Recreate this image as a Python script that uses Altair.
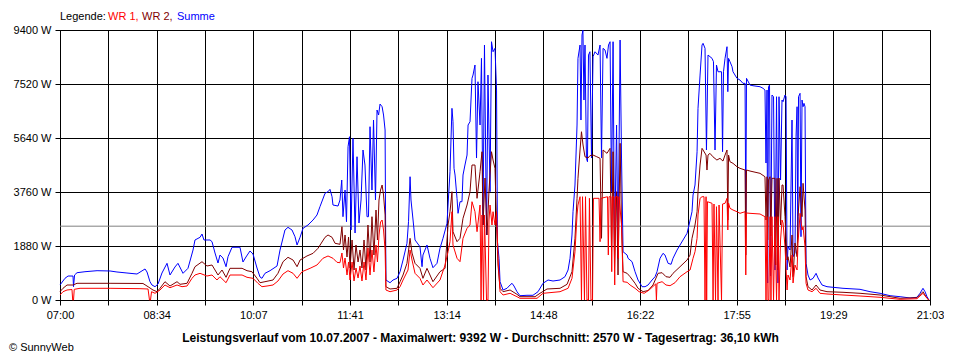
import altair as alt
import pandas as pd

# Time in minutes after 07:00 (day window 07:00 .. 21:03 = 843 min), power in W
SUMME = [(0,522),(4.8,755),(7.8,835),(12.6,835),(13.1,463),(14.1,870),(16.5,950),(24.2,985),(35.9,1020),(48.5,1010),(55.2,975),(64.9,940),(74.6,905),(82.4,1080),(84.3,975),(87.2,637),(89.1,522),(92.1,463),(95,557),(98.8,940),(103.7,1277),(106.6,870),(111.4,1149),(114.3,1277),(119.2,929),(124,1103),(128.9,1740),(130.8,2089),(135.7,2183),(137.6,2297),(139.5,2089),(145.4,2089),(147.3,2030),(150.2,1636),(153.1,1288),(155,1566),(157.9,1462),(160.9,1159),(162.8,1507),(166.7,1835),(174.4,1835),(177.3,1322),(180.2,1497),(184.1,1706),(187,1601),(190.9,1114),(193.8,801),(195.7,755),(198.6,929),(203.5,1020),(210.3,1184),(213.2,1740),(218,2437),(220.9,2531),(224.8,2437),(227.7,2204),(229.7,1915),(232.6,2183),(235.5,2496),(240.3,2611),(245.2,2785),(249,2959),(251.9,3248),(256.8,3714),(259.7,3770),(261.6,3853),(263.6,3596),(264.5,3307),(269.4,3272),(271.3,3481),(273,4177),(274.2,2900),(276.2,3829),(277.6,2726),(279.1,5336),(280.5,5684),(282,2437),(283.9,5629),(285.9,2332),(287.8,4988),(289.7,2680),(291.7,3481),(293.6,5222),(295.5,4699),(297.5,2900),(298.9,2900),(300.4,6033),(302.3,3829),(303.8,6266),(305.7,3481),(307.2,6614),(308.7,6440),(310.1,6823),(312.1,6729),(313.5,6440),(315,5918),(315.8,696),(319.8,602),(322.7,696),(326.6,755),(329.5,985),(332.4,1392),(336.2,1974),(337.7,2726),(339.2,4292),(340.1,3481),(342.1,2785),(344,2089),(348.8,1855),(350.8,1159),(351.7,1566),(355.6,1915),(358.5,1452),(361.4,1124),(365.3,1277),(368.2,1800),(371.1,2148),(375,2670),(376,3307),(377.9,4466),(379.8,6673),(380.8,6207),(381.8,4584),(382.8,4351),(384.7,3540),(385.7,3018),(387.6,3422),(389.5,3422),(390.5,4351),(392.4,4699),(394.4,5047),(395.4,6092),(397.3,6207),(399.2,7717),(400.2,7832),(402.1,8180),(403.6,4943),(405,7599),(407,6092),(408.4,8413),(409.9,2611),(411.3,8877),(413.3,2263),(414.7,7832),(416.7,3770),(418.1,8992),(419.6,8643),(421.5,8762),(423,7310),(423.9,2030),(425.4,1452),(426.4,637),(429.3,348),(433.1,407),(436.1,522),(438,581),(439.9,487),(442.8,289),(445.7,150),(452.5,164),(458.3,164),(463.2,289),(468,581),(472.9,696),(477.7,661),(484.5,696),(489.3,811),(492.3,1044),(494.2,1452),(496.1,2263),(497.1,3074),(499,4003),(501,6092),(501.9,8413),(503.9,8877),(504.8,6266),(505.8,9225),(506.7,9392),(507.7,6962),(508.7,8877),(510.1,4932),(511.1,4814),(512.1,8528),(513.5,8643),(515,4943),(516.5,8469),(518.4,8643),(521.3,8528),(523.3,8877),(524.7,4943),(526.2,8762),(528.1,8703),(530,8413),(531.5,8877),(533,8992),(534.4,3770),(535.9,8992),(537.3,1681),(539.3,6092),(540.7,1452),(542.7,9051),(544.1,4943),(545.6,1681),(549.5,1566),(550.4,1452),(554.3,1333),(557.2,985),(560.1,696),(564,463),(566.9,463),(569.8,522),(573.7,696),(576.6,811),(578.5,985),(581.4,1452),(584.3,1625),(586.2,1566),(589.2,1277),(592.1,1243),(594,1452),(597.9,1740),(600.8,1915),(603.7,2089),(607.6,2322),(609.5,2611),(612.4,3074),(613.4,3655),(615.3,4003),(617.3,5162),(618.2,6673),(620.2,7832),(622.1,8877),(623.1,8936),(625,8762),(626.4,5222),(627.9,8528),(631.8,8413),(633.2,8296),(634.7,5222),(636.1,8180),(637.6,7947),(641,7947),(642,5162),(642.9,7947),(644.4,8413),(646.3,8818),(647.1,7252),(647.8,8413),(649.2,8296),(651.2,8122),(652.1,7947),(656,7717),(658.9,7658),(661.8,7543),(663.8,7543),(664.5,2844),(665.2,7717),(668.6,7484),(671.5,7460),(678.3,7425),(681.2,7370),(683.1,7310),(684.1,4769),(685.1,7310),(685.7,592),(686.5,7425),(687.5,7484),(688.5,835),(689.9,7136),(691.4,7077),(692.8,1044),(694.3,7077),(695.7,592),(696.7,7077),(698.2,4177),(699.6,6962),(700.6,6903),(702.5,7136),(703.5,7077),(704.5,1044),(705.4,1855),(707.4,1740),(709.3,6266),(710.3,1507),(712.2,1636),(713.2,5684),(714.2,6729),(714.9,2204),(715.6,7077),(717.1,7195),(718,2204),(719,6962),(720,6729),(720.9,6847),(721.9,6729),(722.9,1277),(724.8,870),(726.8,696),(729.7,755),(732.6,929),(734.5,766),(738.4,522),(743.2,463),(758.7,407),(775.2,372),(784.9,289),(794.6,233),(804.3,150),(814,115),(823.7,70),(830.4,94),(833.3,233),(836.2,407),(838.2,289),(840.1,115),(842,0)]

WR2 = [(0,289),(2.9,407),(6.8,522),(12.6,522),(16.5,581),(48.5,581),(80.4,575),(85.3,463),(90.1,348),(94,289),(96.9,407),(101.7,637),(106.6,487),(113.4,637),(116.3,546),(123.1,581),(127.9,929),(130.8,1159),(137.6,1333),(142.4,1184),(147.3,1218),(150.2,1044),(153.1,870),(157,1044),(160.9,790),(164.7,1103),(176.4,1103),(181.2,1020),(186,985),(190.9,755),(193.8,602),(198.6,637),(206.4,696),(211.2,929),(216.1,1333),(220.9,1486),(225.8,1392),(229.7,1159),(232.6,1392),(239.3,1532),(245.2,1625),(250,1800),(256.8,2183),(259.7,2263),(263.6,2183),(266.5,1974),(271.3,1939),(273.2,2552),(274.7,1740),(276.2,2263),(278.1,1497),(279.6,2193),(281,1114),(283,2089),(284.9,1044),(286.8,1915),(288.8,1323),(290.7,1740),(292.6,1114),(294.6,2089),(296.5,1044),(298.4,2611),(300.4,1323),(302.3,2900),(304.2,1566),(306.2,3133),(307.6,2089),(309.1,3481),(310.6,3829),(312.1,4003),(313.5,3655),(315,2959),(315.8,463),(319.8,383),(326.6,407),(329.5,637),(332.4,870),(336.2,1277),(339.2,2148),(341.1,1636),(344,1277),(348.8,1103),(351.7,755),(355.6,1103),(361.4,637),(368.2,985),(373.1,1103),(376,2611),(377.9,3074),(379.8,3770),(380.8,2378),(384.7,2030),(387.6,2148),(390.5,2844),(394.4,3307),(397.3,3770),(399.2,4699),(402.1,4699),(404.1,3540),(407,4466),(408.9,5162),(409.9,2611),(411.8,4247),(413.8,2263),(415.7,3829),(418.1,5162),(419.6,4873),(421.5,4584),(423,2611),(424.4,1218),(426.4,407),(429.3,289),(436.1,348),(442.8,198),(445.7,115),(460.3,115),(465.1,233),(471.9,383),(484.5,407),(491.3,546),(496.1,985),(499,2148),(501,3540),(501.9,4236),(503.9,5222),(505.3,5858),(506.8,5396),(508.7,4988),(511.6,4943),(513.5,5025),(516.5,5047),(520.1,4988),(523.3,4932),(524.7,2148),(526.2,5222),(530,5106),(533,5280),(534.4,1681),(535.9,5162),(537.3,1103),(539.3,3770),(540.7,870),(542.7,5455),(544.1,2611),(545.6,985),(549.5,929),(552.4,811),(557.2,581),(560.1,407),(565,289),(569.8,331),(574.6,522),(579.5,929),(583.4,950),(587.2,811),(591.1,790),(594,929),(600.8,1159),(607.6,1392),(610.5,1566),(612.4,2148),(615.3,2611),(617.3,3074),(618.2,3770),(620.2,4699),(622.1,5280),(623.1,5222),(626,5047),(626.9,4525),(627.9,5047),(629.8,5106),(632.6,4988),(636.5,4873),(639.5,4932),(642.4,4838),(644.4,5047),(646.3,5222),(647.1,2785),(647.8,5047),(649.2,4814),(652.1,4758),(656,4640),(658.9,4584),(663.8,4525),(664.5,1566),(665.2,4525),(668.6,4490),(678.3,4410),(683.1,4292),(684.1,2785),(685.1,4292),(685.7,2089),(686.5,4177),(688,4292),(688.7,2228),(689.9,4236),(692.8,4236),(693.5,1218),(694.8,4236),(695.7,1044),(696.7,4247),(698.2,2611),(699.6,4003),(700.6,4003),(702.5,2900),(704.5,1392),(705.4,1507),(707.4,1149),(709.3,2263),(710.3,811),(712.2,1984),(714.2,1507),(715.1,2900),(717.1,3944),(719,2900),(720,4062),(721.9,3133),(722.9,811),(724.8,463),(728.7,348),(732.6,522),(736.4,348),(743.2,289),(758.7,268),(775.2,233),(794.6,174),(814,59),(830.4,80),(836.2,289),(840.1,59),(842,0)]

WR1 = [(0,174),(2.9,289),(6.8,348),(11.6,366),(12.3,0),(13.1,0),(13.8,372),(19.4,407),(48.5,407),(77.5,394),(85.3,383),(86.7,0),(87.7,0),(88.7,289),(92.1,233),(96.9,348),(101.7,522),(106.6,428),(113.4,522),(118.2,463),(123.1,487),(127.9,755),(130.8,870),(135.7,929),(142.4,835),(147.3,870),(152.1,696),(155,811),(160.9,602),(164.7,870),(176.4,870),(181.2,790),(187,755),(191.8,581),(195.7,463),(200.6,487),(206.4,522),(211.2,661),(216.1,905),(220.9,1020),(225.8,929),(229.7,755),(234.5,985),(242.3,1103),(249,1218),(254.8,1452),(259.7,1532),(264.5,1452),(268.4,1312),(271.3,1298),(273.2,1636),(274.7,1114),(276.2,1462),(278.1,870),(279.6,1323),(281,696),(283,1323),(284.9,661),(286.8,1114),(288.8,766),(290.7,1184),(292.6,661),(294.6,1323),(296.5,696),(298.4,1810),(300.4,870),(302.3,1740),(304.2,975),(306.2,1915),(307.6,1323),(309.1,2263),(310.6,2715),(312.1,2785),(313.5,2437),(315,1740),(315.8,348),(319.8,289),(326.6,348),(329.5,463),(332.4,696),(337.2,1044),(339.2,1740),(341.1,1392),(344,929),(348.8,755),(351.7,522),(355.6,696),(361.4,428),(368.2,696),(373.1,1218),(376,1681),(377.9,2030),(379.8,3074),(380.8,1915),(384.7,1452),(387.6,1333),(390.5,2148),(394.4,2496),(397.3,2611),(399.2,3422),(402.1,3074),(404.1,2378),(407,3307),(408,0),(408.9,2959),(410.4,0),(411.3,2959),(413.3,0),(414.7,0),(415.7,2785),(416.7,3307),(418.6,2611),(419.6,3074),(421.5,2611),(423,3074),(424.4,1462),(426.4,289),(429.3,174),(436.1,233),(442.8,115),(445.7,59),(462.2,59),(468,233),(484.5,289),(492.3,407),(496.1,755),(499,1681),(501,2959),(501.9,3307),(503.9,3596),(505.3,0),(506.3,3596),(508.2,0),(509.2,3596),(510.6,0),(512.1,0),(513,3540),(514.5,0),(516,0),(516.9,3540),(522.3,3540),(523.3,2030),(524.2,3540),(530.5,3596),(531.3,1566),(532,3596),(533.9,3596),(534.6,985),(535.4,3596),(536.8,3596),(537.5,522),(538.3,3596),(540.3,3596),(541,1452),(541.7,3596),(544.1,2611),(545.6,637),(549.5,616),(552.4,522),(557.2,407),(561.1,289),(566,233),(570.8,348),(577.3,560),(577.9,0),(578.5,581),(583.4,637),(587.2,522),(591.1,498),(595.9,602),(600.8,811),(607.6,985),(610.5,1044),(613.4,1452),(615.3,1681),(617.3,2148),(618.2,2959),(620.2,3540),(622.1,3596),(624,3596),(625,0),(626,3596),(626.6,0),(627.4,3422),(631.8,3366),(632.8,0),(633.7,3342),(635.2,0),(636.1,3248),(637.6,0),(638.6,3307),(641,0),(642,3342),(644.4,3366),(646.3,3540),(647.1,2437),(647.8,3377),(649.2,3192),(652.1,3133),(656,3074),(658.9,3018),(663.8,3074),(664.5,870),(665.2,3029),(668.6,3018),(678.3,2994),(683.1,2900),(684.1,0),(685.1,2900),(686,0),(686.9,0),(688,2900),(688.9,0),(689.9,2900),(691.4,0),(692.8,2900),(694.3,0),(695.7,2900),(696.7,0),(698.2,2089),(699.6,2785),(700.6,2680),(702.5,1855),(704.5,348),(705.4,870),(707.4,696),(709.3,1566),(710.3,592),(712.2,1218),(714.2,1044),(715.1,1974),(717.1,3018),(719,2437),(720,2552),(721.9,1855),(722.9,581),(724.8,348),(728.7,289),(732.6,407),(736.4,233),(743.2,209),(758.7,174),(775.2,139),(794.6,94),(814,24),(830.4,45),(836.2,233),(840.1,59),(842,0)]

DAY_MINUTES = 843
X_GRID_DIVISIONS = 18
X_TICK_LABELS = ["07:00", "08:34", "10:07", "11:41", "13:14", "14:48", "16:22", "17:55", "19:29", "21:03"]
Y_TICKS = [0, 1880, 3760, 5640, 7520, 9400]
AVERAGE_W = 2570
TITLE = "Leistungsverlauf vom 10.07.2007 - Maximalwert: 9392 W - Durchschnitt: 2570 W - Tagesertrag: 36,10 kWh"
LEGEND = [("Legende:", "#000000"), ("WR 1,", "#ff0000"), ("WR 2,", "#800000"), ("Summe", "#0000ff")]
LEGEND_X = [0, 48, 82, 117]
COPYRIGHT = "\u00a9 SunnyWeb"

FONT = "Liberation Sans"
step = DAY_MINUTES / X_GRID_DIVISIONS
xvals = [k * step for k in range(X_GRID_DIVISIONS + 1)]
labels_js = "[" + ",".join("'" + s + "'" for s in X_TICK_LABELS) + "]"
label_expr = ("(round(datum.value/%f) %% 2 == 0) ? %s[round(datum.value/%f)/2] : ''"
              % (step, labels_js, step))

x_enc = alt.X("t:Q",
              scale=alt.Scale(domain=[0, DAY_MINUTES], nice=False, zero=False),
              axis=alt.Axis(values=xvals, labelExpr=label_expr, grid=True, gridColor="black",
                            gridOpacity=1, gridWidth=1, tickColor="black", tickSize=5, tickWidth=1,
                            domainColor="black", domainWidth=1, labelFont=FONT, labelFontSize=11,
                            labelColor="black", labelPadding=4, labelFlush=False, labelOverlap=False,
                            title=TITLE, titleFont=FONT, titleFontSize=12, titleFontWeight="bold",
                            titleColor="black", titleX=420, titleY=37, titleBaseline="middle",
                            titleAlign="center"))
y_enc = alt.Y("w:Q",
              scale=alt.Scale(domain=[0, 9400], nice=False),
              axis=alt.Axis(values=Y_TICKS, labelExpr="datum.value + ' W'", grid=True,
                            gridColor="black", gridOpacity=1, gridWidth=1, tickColor="black",
                            tickSize=5, tickWidth=1, domainColor="black", domainWidth=1,
                            labelFont=FONT, labelFontSize=11, labelColor="black", labelPadding=4,
                            labelFlush=False, labelOverlap=False, title=None))


def series(points, color):
    df = pd.DataFrame(points, columns=["t", "w"])
    return alt.Chart(df).mark_line(color=color, strokeWidth=1, interpolate="linear").encode(
        x=x_enc, y=y_enc)


avg = alt.Chart(pd.DataFrame({"w": [AVERAGE_W]})).mark_rule(color="#808080", strokeWidth=1).encode(y=y_enc)

layers = [avg, series(SUMME, "#0000ff"), series(WR2, "#800000"), series(WR1, "#ff0000")]

for (txt, col), lx in zip(LEGEND, LEGEND_X):
    layers.append(
        alt.Chart(pd.DataFrame({"label": [txt]})).mark_text(
            align="left", baseline="middle", font=FONT, fontSize=11, color=col
        ).encode(x=alt.value(lx), y=alt.value(-13), text="label:N")
    )

layers.append(
    alt.Chart(pd.DataFrame({"label": [COPYRIGHT]})).mark_text(
        align="left", baseline="middle", font=FONT, fontSize=11, color="black"
    ).encode(x=alt.value(-51), y=alt.value(318), text="label:N")
)

chart = alt.layer(*layers).properties(
    width=870, height=270,
    autosize=alt.AutoSizeParams(type="none"),
    padding={"left": 52, "top": 22, "right": 14, "bottom": 52},
    background="white",
).configure_view(stroke="black", strokeWidth=1)

chart.save("out.html", embed_options={"renderer": "svg", "actions": False})
